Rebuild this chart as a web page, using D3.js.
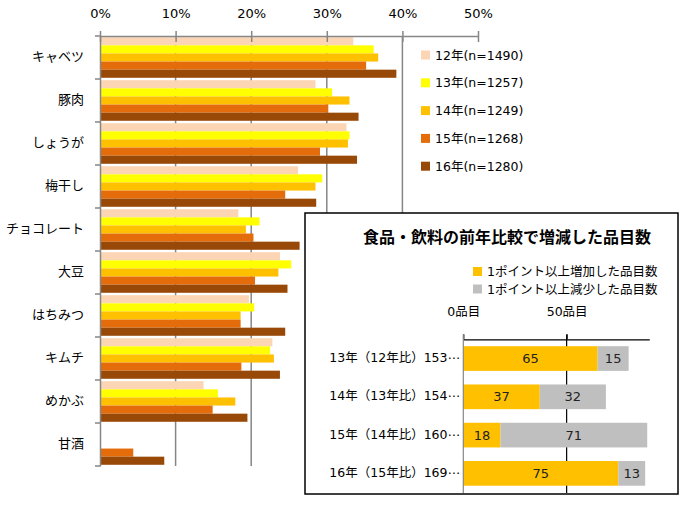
<!DOCTYPE html>
<html><head><meta charset="utf-8">
<script src="https://cdn.jsdelivr.net/npm/d3@7/dist/d3.min.js"></script>
<style>
body{margin:0;background:#fff;}
svg{font-family:"DejaVu Sans","Noto Sans CJK JP",sans-serif;}
</style></head>
<body><svg id="c" width="680" height="507"></svg>
<script>
const categories = ["キャベツ","豚肉","しょうが","梅干し","チョコレート","大豆","はちみつ","キムチ","めかぶ","甘酒"];
const seriesNames = ["12年(n=1490)","13年(n=1257)","14年(n=1249)","15年(n=1268)","16年(n=1280)"];
const v12 = [33.5,28.5,32.6,26.2,18.3,23.8,19.7,22.8,13.7,0];
const v13 = [36.2,30.7,33.0,29.4,21.1,25.3,20.4,22.5,15.6,0];
const v14 = [36.8,33.0,32.8,28.5,19.3,23.6,18.6,23.0,17.9,0];
const v15 = [35.2,30.2,29.1,24.5,20.3,20.5,18.6,18.7,14.9,4.4];
const v16 = [39.2,34.2,34.0,28.6,26.4,24.8,24.5,23.8,19.5,8.5];
const xTicks = [0,10,20,30,40,50];
const seriesColors = ["#FCD5B5","#FFFF00","#FFC000","#E46C0A","#984807"];

const insetTitle = "食品・飲料の前年比較で増減した品目数";
const insetCats = ["13年（12年比）153⋯","14年（13年比）154⋯","15年（14年比）160⋯","16年（15年比）169⋯"];
const increased = [65,37,18,75];
const decreased = [15,32,71,13];
const insetSeries = ["1ポイント以上増加した品目数","1ポイント以上減少した品目数"];
const insetColors = ["#FFC000","#BFBFBF"];
const insetTicks = [0,50];

const svg = d3.select("#c");
const allVals = [v12,v13,v14,v15,v16];

// main chart
const x = d3.scaleLinear().domain([0,50]).range([100,478]);
const y = d3.scaleBand().domain(categories).range([36,466]).paddingInner(0).paddingOuter(0);
const inner = d3.scaleBand().domain(d3.range(5)).range([0,y.bandwidth()]).paddingInner(0).paddingOuter(0.15);

const g = svg.append("g");
g.selectAll("line.grid").data(xTicks.filter(t=>t>0 && t<50)).join("line")
  .attr("x1",d=>x(d)).attr("x2",d=>x(d)).attr("y1",36).attr("y2",466)
  .attr("stroke","#868686").attr("stroke-width",1.5);

allVals.forEach((vals,si)=>{
  g.selectAll("rect.s"+si).data(categories.map((c,i)=>({c,v:vals[i]}))).join("rect")
    .attr("x",x(0)).attr("y",d=>y(d.c)+inner(si))
    .attr("width",d=>x(d.v)-x(0)).attr("height",inner.bandwidth())
    .attr("fill",seriesColors[si]);
});

const xa = d3.axisTop(x).tickValues(xTicks).tickFormat(d=>d+"%").tickSize(0);
const xag = svg.append("g").attr("transform","translate(0,36)").call(xa);
xag.select(".domain").attr("stroke","#868686").attr("stroke-width",1.5);
xag.selectAll(".tick text").attr("y",-18).attr("font-size",13).attr("fill","#000")
  .attr("font-family","'DejaVu Sans',sans-serif");
xag.selectAll(".tick line").remove();
xag.selectAll(".tick").append("line").attr("y1",-5).attr("y2",6).attr("stroke","#868686").attr("stroke-width",1.5);

const ya = d3.axisLeft(y).tickSize(0).tickFormat("");
const yag = svg.append("g").attr("transform","translate(100,0)").call(ya);
yag.select(".domain").attr("stroke","#868686").attr("stroke-width",1.5);
yag.selectAll(".tick").remove();
const bounds = [36,...categories.map(c=>y(c)+y.bandwidth())];
yag.selectAll("line.cb").data(bounds).join("line")
  .attr("x1",-5).attr("x2",0).attr("y1",d=>d).attr("y2",d=>d)
  .attr("stroke","#868686").attr("stroke-width",1.5);
svg.selectAll("text.cat").data(categories).join("text")
  .attr("x",84).attr("y",d=>y(d)+y.bandwidth()/2-2.5)
  .attr("text-anchor","end").attr("dominant-baseline","central")
  .attr("font-family","'Noto Sans CJK JP',sans-serif")
  .attr("font-size",13).attr("fill","#000").text(d=>d);

const lg = svg.append("g");
seriesNames.forEach((n,i)=>{
  const cy = 55 + i*27.8;
  lg.append("rect").attr("x",421).attr("y",cy-4.5).attr("width",9).attr("height",9).attr("fill",seriesColors[i]);
  lg.append("text").attr("x",435).attr("y",cy).attr("dominant-baseline","central")
    .attr("font-size",12.5).attr("fill","#000").text(n);
});

svg.append("rect").attr("x",305).attr("y",213).attr("width",373).attr("height",281)
  .attr("fill","#fff").attr("stroke","#000").attr("stroke-width",1.5);
svg.append("text").attr("x",507).attr("y",236).attr("text-anchor","middle").attr("dominant-baseline","central")
  .attr("font-family","'Noto Sans CJK JP',sans-serif")
  .attr("font-size",16).attr("font-weight","bold").attr("fill","#000").text(insetTitle);
insetSeries.forEach((n,i)=>{
  const cy = 271.5 + i*17.5;
  svg.append("rect").attr("x",473).attr("y",cy-4.5).attr("width",9).attr("height",9).attr("fill",insetColors[i]);
  svg.append("text").attr("x",487).attr("y",cy).attr("dominant-baseline","central")
    .attr("font-size",12.5).attr("fill","#000").text(n);
});

const ix = d3.scaleLinear().domain([0,90]).range([463.3,649.3]);
const iy = d3.scaleBand().domain(insetCats).range([339.3,492.6]).paddingInner(0.355).paddingOuter(0.18);
svg.append("line").attr("x1",ix(50)).attr("x2",ix(50)).attr("y1",334.5).attr("y2",493).attr("stroke","#000").attr("stroke-width",1.2);
const iag = svg.append("g").attr("transform","translate(0,339.3)").call(d3.axisTop(ix).tickValues(insetTicks).tickSize(0).tickFormat(d=>d+"品目"));
iag.select(".domain").attr("stroke","#000").attr("stroke-width",1.2);
iag.selectAll(".tick text").attr("y",-23).attr("font-size",12.5).attr("fill","#000")
  .attr("font-family","'DejaVu Sans','Noto Sans CJK JP',sans-serif");
iag.selectAll(".tick line").remove();
iag.selectAll(".tick").append("line").attr("y1",-5).attr("y2",0).attr("stroke","#000").attr("stroke-width",1.2);

const stack = insetCats.map((c,i)=>({c,a:increased[i],b:decreased[i]}));
svg.selectAll("rect.inc").data(stack).join("rect")
  .attr("x",ix(0)).attr("y",d=>iy(d.c)).attr("width",d=>ix(d.a)-ix(0)).attr("height",iy.bandwidth()).attr("fill",insetColors[0]);
svg.selectAll("rect.dec").data(stack).join("rect")
  .attr("x",d=>ix(d.a)).attr("y",d=>iy(d.c)).attr("width",d=>ix(d.a+d.b)-ix(d.a)).attr("height",iy.bandwidth()).attr("fill",insetColors[1]);
svg.selectAll("text.ia").data(stack).join("text")
  .attr("x",d=>ix(d.a/2)).attr("y",d=>iy(d.c)+iy.bandwidth()/2).attr("text-anchor","middle").attr("dominant-baseline","central")
  .attr("font-size",13).attr("fill","#222").text(d=>d.a);
svg.selectAll("text.ib").data(stack).join("text")
  .attr("x",d=>ix(d.a+d.b/2)).attr("y",d=>iy(d.c)+iy.bandwidth()/2).attr("text-anchor","middle").attr("dominant-baseline","central")
  .attr("font-size",13).attr("fill","#222").text(d=>d.b);
svg.append("line").attr("x1",ix(0)).attr("x2",ix(0)).attr("y1",334.5).attr("y2",493).attr("stroke","#868686").attr("stroke-width",1.2);
svg.selectAll("text.ic").data(insetCats).join("text")
  .attr("x",460).attr("y",d=>iy(d)+iy.bandwidth()/2-1).attr("text-anchor","end").attr("dominant-baseline","central")
  .attr("font-size",12.5).attr("fill","#000").text(d=>d);
</script></body></html>
